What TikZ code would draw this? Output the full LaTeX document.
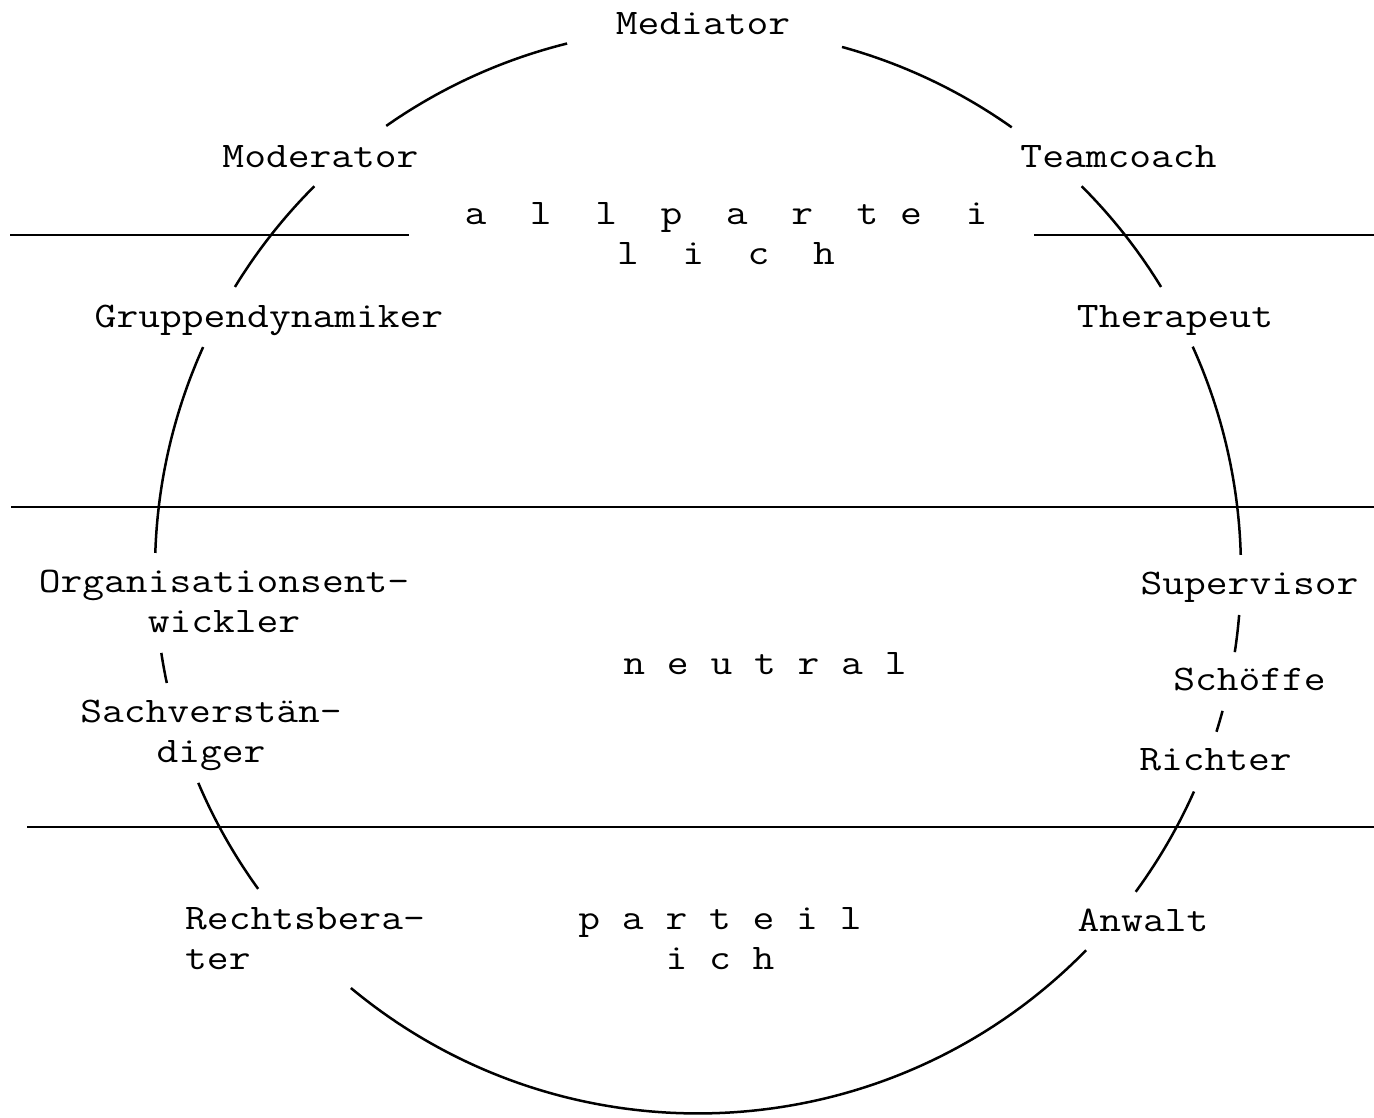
\documentclass[tikz,border=0pt]{standalone}
\usepackage{fontspec}
\setmainfont{Latin Modern Mono}[FakeStretch=1.175]
\begin{document}
\begin{tikzpicture}[x=1pt,y=1pt,
  ring/.style={line width=2.5pt, line cap=butt},
  divider/.style={line width=2.5pt},
  lbl/.style={anchor=base, inner sep=0pt, font=\fontsize{36}{40}\selectfont},
  lblw/.style={anchor=base west, inner sep=0pt, font=\fontsize{36}{40}\selectfont}]
\useasboundingbox (0,0) rectangle (1374,1118);
\fill[white] (0,0) rectangle (1374,1118);
\coordinate (c) at (698,547.5);
\def\R{543}
% ring segments
\draw[ring] (c) ++(103.95:\R) arc[start angle=103.95, end angle=125.04, radius=\R];
\draw[ring] (c) ++(74.62:\R) arc[start angle=74.62, end angle=54.70, radius=\R];
\draw[ring] (c) ++(134.96:\R) arc[start angle=134.96, end angle=148.52, radius=\R];
\draw[ring] (c) ++(45.04:\R) arc[start angle=45.04, end angle=31.48, radius=\R];
\draw[ring] (c) ++(155.7:\R) arc[start angle=155.7, end angle=178.15, radius=\R];
\draw[ring] (c) ++(24.34:\R) arc[start angle=24.34, end angle=1.64, radius=\R];
\draw[ring] (c) ++(188.73:\R) arc[start angle=188.73, end angle=191.96, radius=\R];
\draw[ring] (c) ++(-4.70:\R) arc[start angle=-4.70, end angle=-8.65, radius=\R];
\draw[ring] (c) ++(-14.98:\R) arc[start angle=-14.98, end angle=-17.28, radius=\R];
\draw[ring] (c) ++(203.03:\R) arc[start angle=203.03, end angle=215.9, radius=\R];
\draw[ring] (c) ++(-24.02:\R) arc[start angle=-24.02, end angle=-36.28, radius=\R];
\draw[ring] (c) ++(230.26:\R) arc[start angle=230.26, end angle=315.63, radius=\R];
% dividers
\coordinate (l1a) at (10,883); \coordinate (l1b) at (409,883);
\coordinate (l1c) at (1034,883); \coordinate (l1d) at (1374,883);
\coordinate (l2a) at (11,611); \coordinate (l2b) at (1374,611);
\coordinate (l3a) at (27,291); \coordinate (l3b) at (1374,291);
\draw[divider] (l1a) -- (l1b);
\draw[divider] (l1c) -- (l1d);
\draw[divider] (l2a) -- (l2b);
\draw[divider] (l3a) -- (l3b);
% labels
\node[lbl] (mediator) at (703,1083) {Mediator};
\node[lbl] (moderator) at (320.5,950) {Moderator};
\node[lbl] (teamcoach) at (1118.5,950) {Teamcoach};
\node[lbl] (gruppen) at (269,790) {Gruppendynamiker};
\node[lbl] (therapeut) at (1175,790) {Therapeut};
\node[lbl] (allp) at (726,893) {\begin{tabular}[t]{@{}c@{}}a~~l~~l~~p~~a~~r~~t~e~~i\\l~~i~~c~~h\end{tabular}};
\node[lbl] (orga) at (224,525) {\begin{tabular}[t]{@{}c@{}}Organisationsent-\\wickler\end{tabular}};
\node[lbl] (supervisor) at (1249.5,523) {Supervisor};
\node[lbl] (neutral) at (765,443) {n e u t r a l};
\node[lbl] (schoeffe) at (1249.5,427) {Schöffe};
\node[lbl] (sachv) at (211,395) {\begin{tabular}[t]{@{}c@{}}Sachverstän-\\diger\end{tabular}};
\node[lbl] (richter) at (1215.5,347) {Richter};
\node[lblw] (rechtsb) at (185,188) {\begin{tabular}[t]{@{}l@{}}Rechtsbera-\\ter\end{tabular}};
\node[lbl] (parteil) at (720,188) {\begin{tabular}[t]{@{}c@{}}p a r t e i l\\i c h\end{tabular}};
\node[lbl] (anwalt) at (1143,186) {Anwalt};
\end{tikzpicture}
\end{document}
